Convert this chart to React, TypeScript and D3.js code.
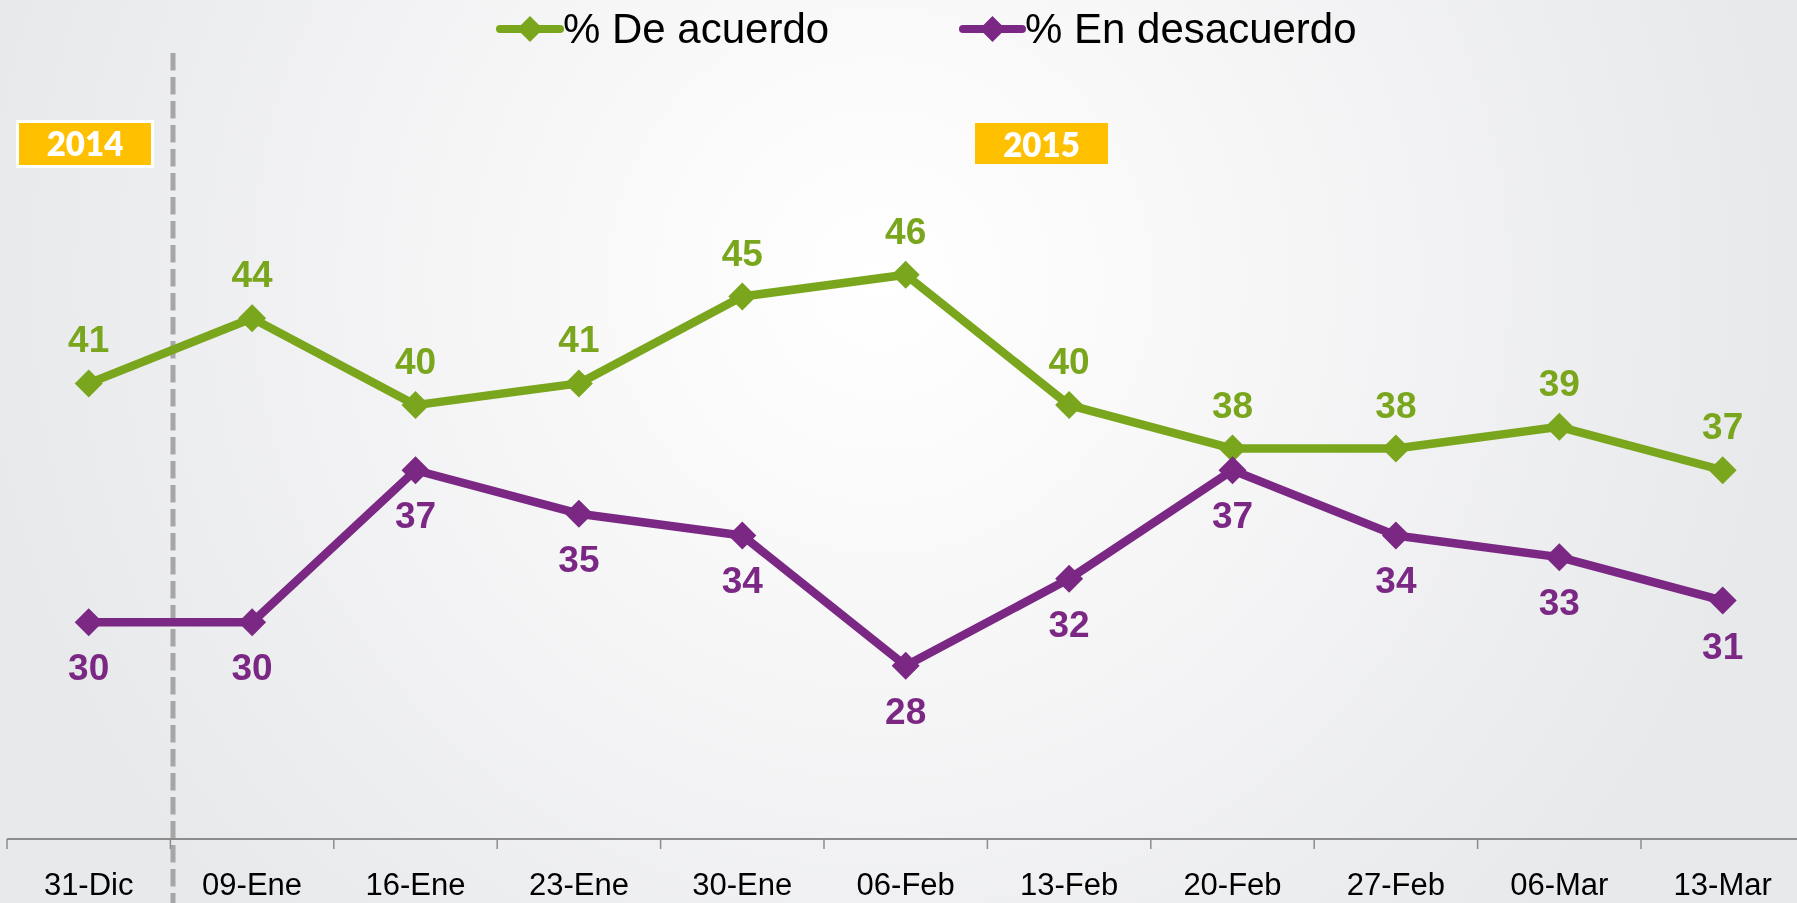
import React from "react";
import * as d3 from "d3";

const categories = ["31-Dic", "09-Ene", "16-Ene", "23-Ene", "30-Ene", "06-Feb", "13-Feb", "20-Feb", "27-Feb", "06-Mar", "13-Mar"];
const deAcuerdo = [41, 44, 40, 41, 45, 46, 40, 38, 38, 39, 37];
const enDesacuerdo = [30, 30, 37, 35, 34, 28, 32, 37, 34, 33, 31];
const seriesNames = ["% De acuerdo", "% En desacuerdo"];
const yearLabels = ["2014", "2015"];

const W = 1797;
const H = 903;
const GREEN = "#7AA61D";
const PURPLE = "#7A2884";
const FONT = "'Liberation Sans', Arial, sans-serif";

function diamond(cx: number, cy: number, r: number) {
  return `M${cx},${cy - r}L${cx + r},${cy}L${cx},${cy + r}L${cx - r},${cy}Z`;
}

export default function App() {
  const x = d3.scaleBand<string>().domain(categories).range([7, 7 + 11 * 163.4]).paddingInner(0).paddingOuter(0);
  const y = d3.scaleLinear().domain([20, 50]).range([839.5, 839.5 - 30 * 21.72]);
  const cx = (c: string) => (x(c) as number) + x.bandwidth() / 2;
  const line = d3
    .line<number>()
    .x((_, i) => cx(categories[i]))
    .y((d) => y(d));

  const series = [
    { name: seriesNames[0], values: deAcuerdo, color: GREEN, above: true },
    { name: seriesNames[1], values: enDesacuerdo, color: PURPLE, above: false },
  ];

  const axisY = 839;

  return (
    <div style={{ position: "fixed", left: 0, top: 0, width: W, height: H, overflow: "hidden" }}>
      <svg width={W} height={H} style={{ display: "block" }}>
        <defs>
          <radialGradient id="bg" gradientUnits="userSpaceOnUse" cx={880} cy={280} r={900}>
            <stop offset="0" stopColor="#FFFFFF" />
            <stop offset="0.35" stopColor="#F8F8F9" />
            <stop offset="1" stopColor="#E8E9EB" />
          </radialGradient>
        </defs>
        <rect x={0} y={0} width={W} height={H} fill="url(#bg)" />

        {/* year separator */}
        <line x1={173} x2={173} y1={53} y2={H} stroke="#A6A6A6" strokeWidth={5} strokeDasharray="17.5 6.5" />

        {/* axis */}
        <line x1={7} x2={W} y1={axisY} y2={axisY} stroke="#8C8C8C" strokeWidth={2} />
        {categories.map((c) => (
          <line key={"t" + c} x1={x(c) as number} x2={x(c) as number} y1={axisY} y2={axisY + 10} stroke="#8C8C8C" strokeWidth={1.5} />
        ))}
        {categories.map((c) => (
          <text key={"l" + c} x={cx(c)} y={895} textAnchor="middle" fontFamily={FONT} fontSize={31} fill="#000">
            {c}
          </text>
        ))}

        {/* year boxes */}
        <rect x={17.5} y={121.5} width={135} height={45} fill="#FFC000" stroke="#FFFFFF" strokeWidth={3} />
        <text x={85} y={156} textAnchor="middle" fontFamily="Lato, 'Open Sans', sans-serif" fontWeight={800} fontSize={33} fill="#FFFFFF">
          {yearLabels[0]}
        </text>
        <rect x={975} y={123} width={133} height={41} fill="#FFC000" />
        <text x={1041.5} y={156.5} textAnchor="middle" fontFamily="Lato, 'Open Sans', sans-serif" fontWeight={800} fontSize={33} fill="#FFFFFF">
          {yearLabels[1]}
        </text>

        {/* series */}
        {series.map((s) => (
          <g key={s.name}>
            <path d={line(s.values) as string} fill="none" stroke={s.color} strokeWidth={8.5} strokeLinejoin="round" />
            {s.values.map((v, i) => (
              <path key={i} d={diamond(cx(categories[i]), y(v), 14)} fill={s.color} />
            ))}
            {s.values.map((v, i) => (
              <text
                key={"v" + i}
                x={cx(categories[i])}
                y={s.above ? y(v) - 31 : y(v) + 58}
                textAnchor="middle"
                fontFamily={FONT}
                fontWeight={700}
                fontSize={37}
                fill={s.color}
              >
                {v}
              </text>
            ))}
          </g>
        ))}

        {/* legend */}
        <line x1={500} x2={560} y1={29} y2={29} stroke={GREEN} strokeWidth={8} strokeLinecap="round" />
        <path d={diamond(530, 29, 13)} fill={GREEN} />
        <text x={563} y={43} fontFamily={FONT} fontSize={42} fill="#000">
          {seriesNames[0]}
        </text>
        <line x1={963} x2={1022} y1={29} y2={29} stroke={PURPLE} strokeWidth={8} strokeLinecap="round" />
        <path d={diamond(992.5, 29, 13)} fill={PURPLE} />
        <text x={1025} y={43} fontFamily={FONT} fontSize={42} fill="#000">
          {seriesNames[1]}
        </text>
      </svg>
    </div>
  );
}
